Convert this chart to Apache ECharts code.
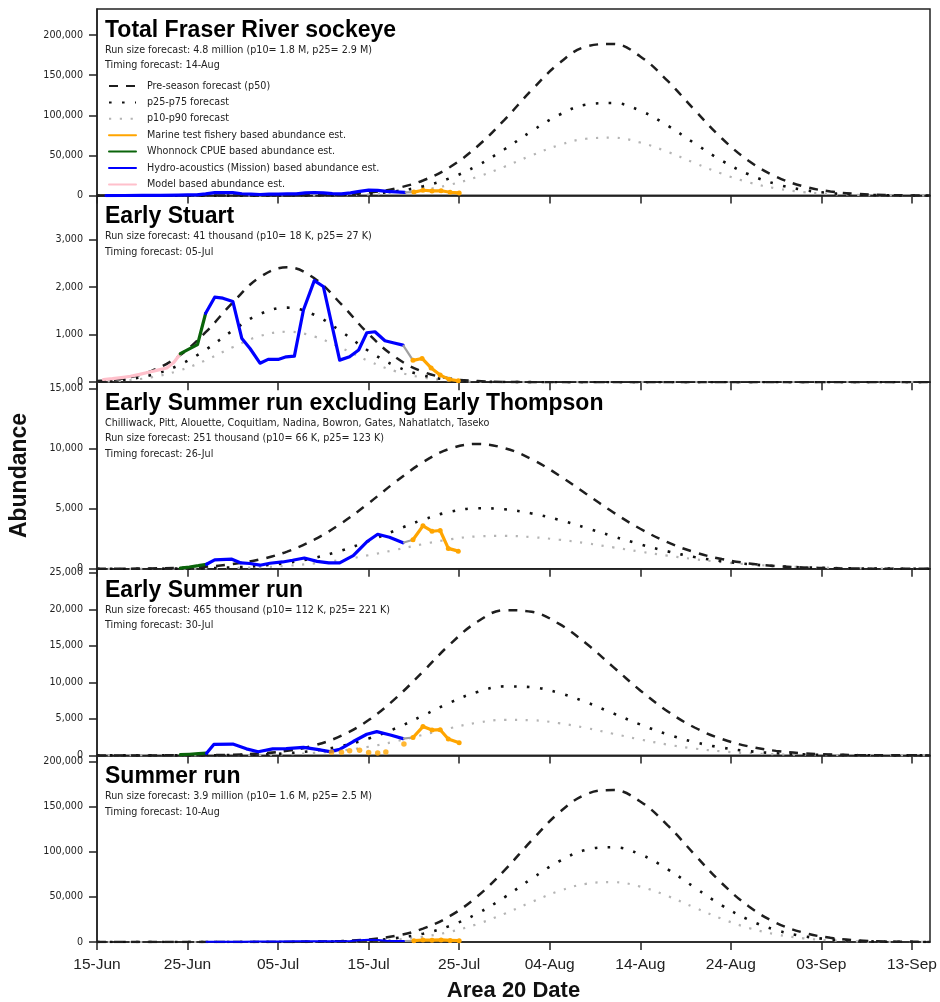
<!DOCTYPE html>
<html><head><meta charset="utf-8">
<script src="https://cdn.jsdelivr.net/npm/echarts/dist/echarts.min.js"></script>
<style>html,body{margin:0;padding:0;background:#fff}#c{width:940px;height:1002px}</style>
</head><body><div id="c"></div>
<script>
// ---------------- DATA ----------------
const dateLabels = ['15-Jun','25-Jun','05-Jul','15-Jul','25-Jul','04-Aug','14-Aug','24-Aug','03-Sep','13-Sep'];
const dateTickDays = [0,10,20,30,40,50,60,70,80,90]; // days after 15-Jun
const fcDays = [0,3,6,9,12,15,18,21,24,27,30,33,36,39,42,45,48,51,54,57,60,63,66,69,72,75,78,81,84,87,90,92];

const panelTitles = ['Total Fraser River sockeye','Early Stuart','Early Summer run excluding Early Thompson','Early Summer run','Summer run'];
const panelSubs = [
  'Run size forecast: 4.8 million (p10= 1.8 M, p25= 2.9 M)\nTiming forecast: 14-Aug',
  'Run size forecast: 41 thousand (p10= 18 K, p25= 27 K)\nTiming forecast: 05-Jul',
  'Chilliwack, Pitt, Alouette, Coquitlam, Nadina, Bowron, Gates, Nahatlatch, Taseko\nRun size forecast: 251 thousand (p10= 66 K, p25= 123 K)\nTiming forecast: 26-Jul',
  'Run size forecast: 465 thousand (p10= 112 K, p25= 221 K)\nTiming forecast: 30-Jul',
  'Run size forecast: 3.9 million (p10= 1.6 M, p25= 2.5 M)\nTiming forecast: 10-Aug'
];
const yTicks = [
  [0,50000,100000,150000,200000],
  [0,1000,2000,3000],
  [0,5000,10000,15000],
  [0,5000,10000,15000,20000,25000],
  [0,50000,100000,150000,200000]
];
const yMax = [232400, 3930, 15550, 25560, 207300];

// Total Fraser River sockeye
const totP50 = [0,0,0,0,0,10,40,150,510,1460,3760,8970,18800,35700,61200,94400,131300,164400,185600,188900,173300,143100,106600,71400,43100,23600,11600,5130,2030,740,230,110];
const totP25 = [0,0,0,0,0,5,25,90,310,890,2300,5480,11480,21800,37400,57700,80200,100300,113300,115300,105800,87300,65100,43600,26300,14400,7060,3130,1240,450,140,70];
const totP10 = [0,0,0,0,0,3,15,60,200,560,1440,3420,7180,13600,23300,36000,50100,62700,70800,72100,66100,54600,40700,27300,16500,9000,4420,1960,780,280,90,40];
const totBlueDays = [1,3,5,7,9,10,11,12,13,14,15,16,17,18,19,20,21,22,23,24,25,26,27,28,29,30,31,32,33,34];
const totBlue = [60,100,180,280,600,800,1000,2050,3640,3690,3600,2320,1850,1400,1780,1930,2090,2260,3370,3840,3410,2500,2165,3335,5280,6790,6510,5270,4630,4080];
const totGrayDays = [34,35];
const totGray = [4080,4410];
const totOrangeDays = [35,36,37,38,39,40];
const totOrange = [4410,6660,5800,5990,4130,3280];

// Early Stuart
const esP50 = [25,84,235,547,1053,1679,2214,2420,2188,1638,1014,520,221,78,23,6,1,0,0,0,0,0,0,0,0,0,0,0,0,0,0,0];
const esP25 = [16,54,153,355,683,1090,1437,1570,1419,1063,658,338,143,50,15,4,1,0,0,0,0,0,0,0,0,0,0,0,0,0,0,0];
const esP10 = [11,37,103,240,462,738,973,1063,961,720,445,229,97,34,10,2,1,0,0,0,0,0,0,0,0,0,0,0,0,0,0,0];
const esPinkDays = [0.7,1.7,2.7,3.7,4.7,5.7,6.7,7.7,8.5,9.2];
const esPink = [57,75,98,125,165,210,255,300,420,600];
const esGreenDays = [9.2,10.3,11.1,12.0];
const esGreen = [600,712,790,1452];
const esBlueDays = [12.0,13.0,13.9,15.0,16.0,16.9,18.0,18.9,20.0,20.9,21.8,22.8,24.0,25.0,26.8,27.9,28.9,29.8,30.7,31.8,32.7,33.8];
const esBlue = [1452,1790,1770,1700,920,710,400,480,480,535,550,1520,2140,2015,465,535,677,1042,1063,873,831,782];
const esGrayDays = [33.8,34.9];
const esGray = [782,460];
const esOrangeDays = [34.9,35.9,36.9,37.9,38.9,39.9];
const esOrange = [460,500,300,150,60,30];

// Early Summer run excluding Early Thompson
const esxP50 = [3,11,30,77,180,392,781,1435,2434,3796,5470,7259,8882,10015,10400,10057,9142,7800,6261,4711,3338,2215,1383,811,449,232,113,51,22,9,3,2];
const esxP25 = [0,2,7,18,48,115,252,500,910,1520,2310,3215,4090,4750,5045,4960,4615,4080,3415,2710,2040,1455,985,630,385,222,121,63,31,15,7,4];
const esxP10 = [0,1,4,11,26,61,128,250,449,743,1131,1587,2057,2456,2700,2743,2640,2427,2131,1787,1431,1094,800,559,372,237,144,84,46,25,12,8];
const esxGreenDays = [9.2,10.2,11.2,12.1];
const esxGreen = [60,150,260,380];
const esxBlueDays = [12.1,13.0,14.9,15.9,16.9,18.0,19.1,20.5,21.6,22.9,24.3,25.6,26.8,28.3,29.8,31.0,32.3,33.8];
const esxBlue = [380,740,800,490,440,300,460,570,710,900,620,500,500,1100,2250,2880,2630,2170];
const esxGrayDays = [33.8,34.9];
const esxGray = [2170,2420];
const esxOrangeDays = [34.9,36.0,37.0,37.9,38.8,39.9];
const esxOrange = [2420,3580,3130,3190,1700,1470];

// Early Summer run
const esrP50 = [0,0,2,10,33,98,260,628,1368,2706,4840,7840,11480,15240,18300,19890,19670,18040,15360,12130,8900,6060,3820,2250,1224,620,290,128,52,20,7,3];
const esrP25 = [0,0,1,5,16,47,124,298,650,1285,2300,3720,5450,7240,8690,9450,9340,8570,7300,5760,4230,2880,1815,1070,580,295,138,61,25,10,3,1];
const esrP10 = [0,0,0,2,8,24,64,154,335,663,1186,1920,2810,3730,4480,4870,4820,4420,3760,2970,2180,1485,936,551,300,152,71,31,13,5,2,1];
const esrGreenDays = [9.2,10.2,11.2,12.1];
const esrGreen = [100,160,230,300];
const esrBlueDays = [12.1,12.9,15.0,16.5,17.8,19.4,20.9,22.8,24.3,25.7,26.8,28.3,29.8,30.9,32.4,33.8];
const esrBlue = [300,1500,1550,900,500,900,920,1100,820,520,820,1900,2900,3250,2800,2300];
const esrDotDays = [25.9,27.0,27.9,29.0,30.0,31.0,31.9,33.9];
const esrDot = [420,420,650,700,400,330,450,1560];
const esrGrayDays = [33.8,34.9];
const esrGray = [2300,2450];
const esrOrangeDays = [34.9,36.0,37.0,37.9,38.8,40.0];
const esrOrange = [2450,3950,3470,3520,2250,1740];

// Summer run
const sumP50 = [0,0,0,0,0,0,34,100,356,1067,2844,6840,14810,28950,50620,79570,112750,143400,164050,168790,156100,129850,97180,65350,39450,21330,10450,4600,1810,640,200,85];
const sumP25 = [0,0,0,0,0,0,21,63,222,665,1774,4266,9240,18060,31570,49630,70330,89440,102330,105280,97360,81000,60610,40760,24600,13300,6515,2870,1130,400,127,53];
const sumP10 = [0,0,0,0,0,0,13,40,140,420,1120,2695,5836,11400,19940,31350,44420,56500,64630,66500,61500,51160,38290,25750,15540,8400,4115,1814,714,253,80,33];
const sumBlueDays = [12,14,16,18,20,22,24,26,28,29,30,31,32,33,34];
const sumBlue = [300,400,400,500,600,700,800,700,1200,2000,2600,2200,1500,1200,1000];
const sumGrayDays = [34,35];
const sumGray = [1000,1500];
const sumOrangeDays = [35,36,37,38,39,40];
const sumOrange = [1500,2200,2000,2300,1800,1500];

// ---------------- CHART ----------------
const N = {
  p50:'Pre-season forecast (p50)', p25:'p25-p75 forecast', p10:'p10-p90 forecast',
  marine:'Marine test fishery based abundance est.', whon:'Whonnock CPUE based abundance est.',
  hydro:'Hydro-acoustics (Mission) based abundance est.', model:'Model based abundance est.'
};
const C = {dash:'#1e1e1e', dot:'#111111', gray:'#b4b4b4', orange:'#FFA500', green:'#0a640a', blue:'#0000FF', pink:'#FFC0CB', link:'#a0a0a0'};
const panelTop0 = 9, panelH = 186.6;
const tops = [0,1,2,3,4].map(i => panelTop0 + i*panelH);
const pts = (d, v) => d.map((x,i)=>[x, v[i]]);

function fcSeries(i, name, vals, style){
  return {type:'line', name, xAxisIndex:i, yAxisIndex:i, data:pts(fcDays, vals), symbol:'none', smooth:0.4, lineStyle:style, silent:true, z:2};
}
function obsSeries(i, name, days, vals, color, extra){
  return Object.assign({type:'line', name, xAxisIndex:i, yAxisIndex:i, data:pts(days, vals), symbol:'none',
    lineStyle:{color, width:3.2, join:'round', cap:'round'}, itemStyle:{color}, silent:true, z:4}, extra||{});
}
const dashS = {color:C.dash, width:2.5, type:[9,8]};
const dotS = {color:C.dot, width:2.6, type:[2.6,10.4]};
const grayS = {color:C.gray, width:2.2, type:[2.2,8.6]};
const orangeExtra = {symbol:'circle', symbolSize:5, showSymbol:true, z:5};

const fcSets = [[totP50,totP25,totP10],[esP50,esP25,esP10],[esxP50,esxP25,esxP10],[esrP50,esrP25,esrP10],[sumP50,sumP25,sumP10]];
const series = [];
fcSets.forEach((s,i)=>{
  series.push(fcSeries(i, N.p10, s[2], grayS));
  series.push(fcSeries(i, N.p25, s[1], dotS));
  series.push(fcSeries(i, N.p50, s[0], dashS));
});
// Total
series.push(obsSeries(0, N.hydro, totBlueDays, totBlue, C.blue));
series.push(obsSeries(0, 'link', totGrayDays, totGray, C.link, {lineStyle:{color:C.link,width:2.2}}));
series.push(obsSeries(0, N.marine, totOrangeDays, totOrange, C.orange, orangeExtra));
// Early Stuart
series.push(obsSeries(1, N.model, esPinkDays, esPink, C.pink));
series.push(obsSeries(1, N.whon, esGreenDays, esGreen, C.green));
series.push(obsSeries(1, N.hydro, esBlueDays, esBlue, C.blue));
series.push(obsSeries(1, 'link', esGrayDays, esGray, C.link, {lineStyle:{color:C.link,width:2.2}}));
series.push(obsSeries(1, N.marine, esOrangeDays, esOrange, C.orange, orangeExtra));
// ES excl ET
series.push(obsSeries(2, N.whon, esxGreenDays, esxGreen, C.green));
series.push(obsSeries(2, N.hydro, esxBlueDays, esxBlue, C.blue));
series.push(obsSeries(2, 'link', esxGrayDays, esxGray, C.link, {lineStyle:{color:C.link,width:2.2}}));
series.push(obsSeries(2, N.marine, esxOrangeDays, esxOrange, C.orange, orangeExtra));
// Early Summer
series.push(obsSeries(3, N.whon, esrGreenDays, esrGreen, C.green));
series.push(obsSeries(3, N.hydro, esrBlueDays, esrBlue, C.blue));
series.push({type:'scatter', name:'Marine test fishery daily est.', xAxisIndex:3, yAxisIndex:3, data:pts(esrDotDays, esrDot), symbol:'circle', symbolSize:5.5, itemStyle:{color:C.orange}, silent:true, z:5});
series.push(obsSeries(3, 'link', esrGrayDays, esrGray, C.link, {lineStyle:{color:C.link,width:2.2}}));
series.push(obsSeries(3, N.marine, esrOrangeDays, esrOrange, C.orange, orangeExtra));
// Summer
series.push(obsSeries(4, N.hydro, sumBlueDays, sumBlue, C.blue, {lineStyle:{color:C.blue,width:2}}));
series.push(obsSeries(4, 'link', sumGrayDays, sumGray, C.link, {lineStyle:{color:C.link,width:2}}));
series.push(obsSeries(4, N.marine, sumOrangeDays, sumOrange, C.orange, orangeExtra));

const axisCol = '#222';
const option = {
  animation:false,
  backgroundColor:'#fff',
  title: panelTitles.map((t,i)=>({
    text:t, subtext:panelSubs[i], left:105, top:tops[i]+10.5, padding:0, itemGap:0,
    textStyle:{fontFamily:'Liberation Sans, Arial, sans-serif', fontWeight:'bold', fontSize:23, color:'#000', lineHeight:22},
    subtextStyle:{fontFamily:'DejaVu Sans, sans-serif', fontSize:9.6, color:'#222', lineHeight:15.5}
  })),
  legend:{
    orient:'vertical', left:108, top:81, padding:0, itemWidth:27, itemHeight:10, itemGap:6.4,
    selectedMode:false,
    data:[N.p50,N.p25,N.p10,N.marine,N.whon,N.hydro,N.model],
    itemStyle:{opacity:0},
    textStyle:{fontFamily:'DejaVu Sans, sans-serif', fontSize:9.6, color:'#222', lineHeight:10, padding:[0,0,0,6]}
  },
  grid: tops.map(t=>({left:97, right:10, top:t, height:panelH, show:true, borderColor:axisCol, borderWidth:1.5, containLabel:false, outerBoundsMode:'none'})),
  xAxis: tops.map((t,i)=>({
    type:'value', gridIndex:i, min:0, max:92, splitLine:{show:false},
    axisLine:{show:true, onZero:false, lineStyle:{color:axisCol, width:1.5}},
    axisTick:{show:true, length:8, customValues:dateTickDays, lineStyle:{color:axisCol, width:1.5}},
    axisLabel:{show:i===4, customValues:dateTickDays, formatter:v=>dateLabels[Math.round(v/10)],
      fontFamily:'Liberation Sans, Arial, sans-serif', fontSize:15.5, color:'#222', margin:15},
    name: i===4 ? 'Area 20 Date' : '', nameLocation:'middle', nameGap:38,
    nameTextStyle:{fontFamily:'Liberation Sans, Arial, sans-serif', fontWeight:'bold', fontSize:22, color:'#111'}
  })),
  yAxis: yMax.map((m,i)=>({
    type:'value', gridIndex:i, min:0, max:m, splitLine:{show:false},
    axisLine:{show:true, lineStyle:{color:axisCol, width:1.5}},
    axisTick:{show:true, length:8, customValues:yTicks[i], lineStyle:{color:axisCol, width:1.5}},
    axisLabel:{customValues:yTicks[i], formatter:v=>v.toLocaleString('en-US'),
      fontFamily:'DejaVu Sans, sans-serif', fontSize:9.6, color:'#222', margin:14},
    name: i===2 ? 'Abundance' : '', nameLocation:'middle', nameGap:66,
    nameTextStyle:{fontFamily:'Liberation Sans, Arial, sans-serif', fontWeight:'bold', fontSize:23, color:'#111'}
  })),
  series
};
const chart = echarts.init(document.getElementById('c'), null, {renderer:'canvas'});
chart.setOption(option);
</script></body></html>
